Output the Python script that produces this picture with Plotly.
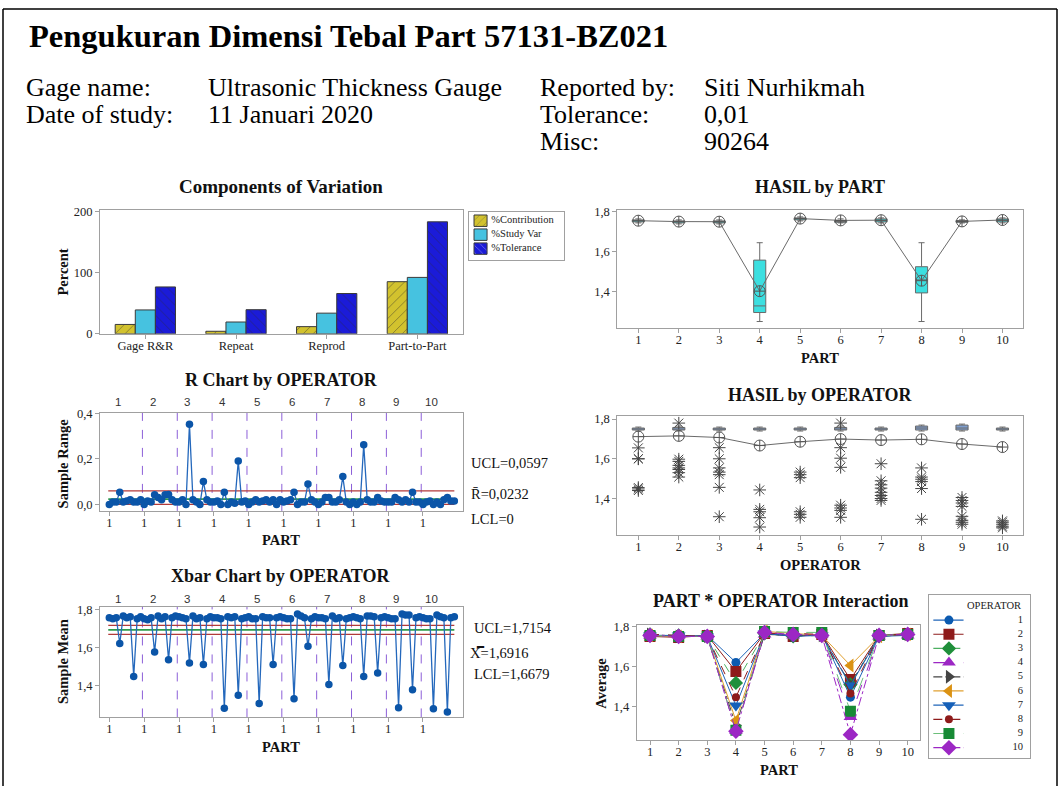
import plotly.graph_objects as go

W, H = 1062, 793
SERIF = "Liberation Serif"
SANS = "Liberation Sans"

# ---------------- data ----------------
title_text = "Pengukuran Dimensi Tebal Part 57131-BZ021"
info_left_labels = ["Gage name:", "Date of study:"]
info_left_values = ["Ultrasonic Thickness Gauge", "11 Januari 2020"]
info_right_labels = ["Reported by:", "Tolerance:", "Misc:"]
info_right_values = ["Siti Nurhikmah", "0,01", "90264"]

components = ["Gage R&R", "Repeat", "Reprod", "Part-to-Part"]
pct_contribution = [15.4, 4.2, 11.8, 85.5]
pct_study_var = [39.2, 19.4, 33.9, 92.5]
pct_tolerance = [76.9, 39.6, 66.1, 183.6]
comp_series = ["%Contribution", "%Study Var", "%Tolerance"]
comp_colors = ["#D2C22E", "#46C2E0", "#1B1BD8"]
comp_patterns = ["/", "", "\\"]

parts = [1, 2, 3, 4, 5, 6, 7, 8, 9, 10]
operators = [1, 2, 3, 4, 5, 6, 7, 8, 9, 10]

# sample means (per operator, parts 1..10)
xbar_op1 = [1.755, 1.750, 1.755, 1.620, 1.765, 1.755, 1.760, 1.447, 1.750, 1.760]
xbar_op2 = [1.750, 1.745, 1.755, 1.575, 1.765, 1.750, 1.760, 1.535, 1.755, 1.765]
xbar_op3 = [1.760, 1.755, 1.750, 1.518, 1.765, 1.750, 1.755, 1.510, 1.750, 1.760]
xbar_op4 = [1.755, 1.755, 1.750, 1.280, 1.760, 1.755, 1.760, 1.348, 1.750, 1.755]
xbar_op5 = [1.760, 1.750, 1.750, 1.305, 1.760, 1.755, 1.755, 1.510, 1.755, 1.760]
xbar_op6 = [1.755, 1.750, 1.750, 1.330, 1.775, 1.765, 1.755, 1.605, 1.750, 1.760]
xbar_op7 = [1.755, 1.755, 1.750, 1.405, 1.765, 1.750, 1.755, 1.505, 1.750, 1.755]
xbar_op8 = [1.760, 1.755, 1.750, 1.447, 1.765, 1.765, 1.760, 1.465, 1.755, 1.760]
xbar_op9 = [1.755, 1.750, 1.750, 1.282, 1.775, 1.770, 1.770, 1.377, 1.755, 1.760]
xbar_op10 = [1.755, 1.750, 1.750, 1.277, 1.770, 1.760, 1.755, 1.260, 1.755, 1.760]

# sample ranges (per operator, parts 1..10)
range_op1 = [0.000, 0.010, 0.010, 0.053, 0.010, 0.015, 0.020, 0.010, 0.010, 0.020]
range_op2 = [0.000, 0.015, 0.010, 0.042, 0.030, 0.020, 0.042, 0.043, 0.020, 0.010]
range_op3 = [0.010, 0.020, 0.000, 0.352, 0.020, 0.010, 0.000, 0.100, 0.020, 0.010]
range_op4 = [0.010, 0.015, 0.000, 0.053, 0.000, 0.010, 0.005, 0.190, 0.010, 0.015]
range_op5 = [0.000, 0.010, 0.020, 0.010, 0.015, 0.020, 0.010, 0.020, 0.000, 0.020]
range_op6 = [0.010, 0.015, 0.020, 0.053, 0.000, 0.010, 0.010, 0.089, 0.020, 0.010]
range_op7 = [0.000, 0.010, 0.030, 0.030, 0.010, 0.010, 0.020, 0.122, 0.010, 0.000]
range_op8 = [0.010, 0.000, 0.010, 0.262, 0.020, 0.010, 0.010, 0.030, 0.015, 0.010]
range_op9 = [0.010, 0.010, 0.030, 0.020, 0.010, 0.020, 0.010, 0.053, 0.010, 0.010]
range_op10 = [0.000, 0.010, 0.015, 0.000, 0.010, 0.000, 0.020, 0.030, 0.015, 0.015]

R_UCL, R_BAR, R_LCL = 0.0597, 0.0232, 0.0
X_UCL, X_BAR, X_LCL = 1.7154, 1.6916, 1.6679

# HASIL by PART box statistics
part_q1 = [1.750, 1.745, 1.745, 1.297, 1.760, 1.748, 1.750, 1.395, 1.748, 1.750]
part_median = [1.755, 1.750, 1.750, 1.330, 1.765, 1.752, 1.757, 1.460, 1.752, 1.757]
part_q3 = [1.760, 1.755, 1.755, 1.559, 1.770, 1.757, 1.765, 1.526, 1.757, 1.765]
part_lo = [1.745, 1.740, 1.740, 1.252, 1.755, 1.745, 1.745, 1.252, 1.745, 1.745]
part_hi = [1.765, 1.760, 1.760, 1.646, 1.775, 1.765, 1.770, 1.646, 1.760, 1.770]

# HASIL by OPERATOR box statistics
op_q1 = [1.745, 1.745, 1.745, 1.745, 1.745, 1.745, 1.745, 1.745, 1.745, 1.745]
op_median = [1.750, 1.750, 1.750, 1.750, 1.750, 1.750, 1.750, 1.755, 1.755, 1.750]
op_q3 = [1.755, 1.758, 1.755, 1.755, 1.755, 1.758, 1.755, 1.765, 1.770, 1.755]
op_lo = [1.740, 1.740, 1.740, 1.740, 1.740, 1.740, 1.740, 1.740, 1.740, 1.740]
op_hi = [1.760, 1.765, 1.760, 1.760, 1.760, 1.765, 1.760, 1.770, 1.775, 1.760]

# outlying individual measurements (asterisks) per operator
outliers_op1 = [1.655, 1.600, 1.600, 1.455, 1.448, 1.440]
outliers_op2 = [1.780, 1.598, 1.587, 1.567, 1.554, 1.546, 1.530, 1.508]
outliers_op3 = [1.656, 1.600, 1.554, 1.533, 1.520, 1.456, 1.308]
outliers_op4 = [1.443, 1.345, 1.333, 1.303, 1.256]
outliers_op5 = [1.533, 1.520, 1.505, 1.333, 1.320, 1.305]
outliers_op6 = [1.780, 1.656, 1.603, 1.557, 1.366, 1.352, 1.340, 1.305]
outliers_op7 = [1.575, 1.489, 1.469, 1.452, 1.431, 1.415, 1.400, 1.390]
outliers_op8 = [1.554, 1.508, 1.497, 1.485, 1.450, 1.295]
outliers_op9 = [1.405, 1.390, 1.377, 1.360, 1.310, 1.290, 1.280, 1.270]
outliers_op10 = [1.287, 1.280, 1.270, 1.260, 1.252]

xbar_all = [xbar_op1, xbar_op2, xbar_op3, xbar_op4, xbar_op5,
            xbar_op6, xbar_op7, xbar_op8, xbar_op9, xbar_op10]
range_all = [range_op1, range_op2, range_op3, range_op4, range_op5,
             range_op6, range_op7, range_op8, range_op9, range_op10]
outliers_all = [outliers_op1, outliers_op2, outliers_op3, outliers_op4, outliers_op5,
                outliers_op6, outliers_op7, outliers_op8, outliers_op9, outliers_op10]

# styles for operators in interaction plot
op_colors = ["#0B5AB0", "#8E1B1B", "#1F8F3A", "#9C27C4", "#444444",
             "#DB9213", "#1560B8", "#8E1B1B", "#178A35", "#9C27C4"]
op_line_colors = ["#1F65B8", "#8E1B1B", "#4CAF60", "#9C27C4", "#444444",
                  "#E0A030", "#1F65B8", "#8E1B1B", "#6CBF7A", "#9C27C4"]
op_symbols = ["circle", "square", "diamond", "triangle-up", "triangle-right",
              "triangle-left", "triangle-down", "circle", "square", "diamond"]
op_dash = ["solid", "solid", "dash", "longdash", "dashdot",
           "solid", "solid", "dash", "longdash", "dashdot"]
op_msize = [9, 11, 11, 12, 12, 12, 12, 8, 11, 12]


# ---------------- helpers ----------------
def fx(p):
    return p / W


def fy(p):
    return 1 - p / H


def dom_x(a, b):
    return [fx(a), fx(b)]


def dom_y(top, bottom):
    return [fy(bottom), fy(top)]


def comma(v, nd):
    return f"{v:.{nd}f}".replace(".", ",")


AX_LINE = "#A0A0A0"
base_axis = dict(showline=True, mirror=True, linecolor=AX_LINE, linewidth=1,
                 ticks="outside", ticklen=4, tickcolor=AX_LINE, showgrid=False,
                 zeroline=False, tickfont=dict(family=SERIF, size=12.5, color="#222"))

fig = go.Figure()

# ---------------- Components of Variation ----------------
bar_line = dict(color="#3A3A3A", width=1)
comp_values = [pct_contribution, pct_study_var, pct_tolerance]
for name, vals, col, pat in zip(comp_series, comp_values, comp_colors, comp_patterns):
    fig.add_trace(go.Bar(x=components, y=vals, name=name,
                         marker=dict(color=col, line=bar_line,
                                     pattern=dict(shape=pat, fgcolor="#2A2A2A", size=7, solidity=0.12)),
                         showlegend=False, xaxis="x", yaxis="y"))

# compact legend for components (aux axis 8)
n_ser = len(comp_series)
fig.add_trace(go.Bar(y=list(range(n_ser)), x=[0.137] * n_ser, base=[0.053] * n_ser,
                     orientation="h", width=0.82,
                     marker=dict(color=comp_colors, line=bar_line,
                                 pattern=dict(shape=comp_patterns, fgcolor="#2A2A2A",
                                              size=5, solidity=0.12)),
                     showlegend=False, hoverinfo="skip", xaxis="x8", yaxis="y8"))
fig.add_trace(go.Scatter(x=[0.235] * n_ser, y=list(range(n_ser)), mode="text",
                         text=comp_series, textposition="middle right",
                         textfont=dict(family=SERIF, size=10.5, color="#222"),
                         showlegend=False, hoverinfo="skip", xaxis="x8", yaxis="y8"))

# ---------------- HASIL by PART ----------------
part_means = [sum(xbar_all[o][p] for o in range(len(operators))) / len(operators)
              for p in range(len(parts))]
fig.add_trace(go.Box(x=parts, q1=part_q1, median=part_median, q3=part_q3,
                     lowerfence=part_lo, upperfence=part_hi, width=0.3,
                     fillcolor="#3CDFE0", line=dict(color="#6A6A6A", width=1),
                     boxpoints=False, showlegend=False, hoverinfo="skip",
                     xaxis="x2", yaxis="y2"))
fig.add_trace(go.Scatter(x=parts, y=part_means, mode="lines+markers",
                         line=dict(color="#6A6A6A", width=1),
                         marker=dict(symbol="circle-cross-open", size=11,
                                     color="#555555", line=dict(width=1)),
                         showlegend=False, xaxis="x2", yaxis="y2"))

# ---------------- R chart ----------------
n_parts = len(parts)
idx = [o * n_parts + p + 1 for o in range(len(operators)) for p in range(n_parts)]
r_flat = [v for row in range_all for v in row]
x_flat = [v for row in xbar_all for v in row]
pt_line = dict(color="#2468BC", width=1.3)
pt_marker = dict(symbol="circle", size=7.5, color="#0B55A8")
fig.add_trace(go.Scatter(x=idx, y=r_flat, mode="lines+markers", line=pt_line,
                         marker=pt_marker, showlegend=False, xaxis="x3", yaxis="y3"))

# ---------------- HASIL by OPERATOR ----------------
op_means = [sum(row) / len(row) for row in xbar_all]
fig.add_trace(go.Box(x=operators, q1=op_q1, median=op_median, q3=op_q3,
                     lowerfence=op_lo, upperfence=op_hi, width=0.3,
                     fillcolor="#7E9ECF", line=dict(color="#6A6A6A", width=1),
                     boxpoints=False, showlegend=False, hoverinfo="skip",
                     xaxis="x4", yaxis="y4"))
out_x = [operators[i] for i, lst in enumerate(outliers_all) for _ in lst]
out_y = [v for lst in outliers_all for v in lst]
fig.add_trace(go.Scatter(x=out_x, y=out_y, mode="markers",
                         marker=dict(symbol="asterisk-open", size=10.5, color="#454545",
                                     line=dict(color="#454545", width=1)),
                         showlegend=False, xaxis="x4", yaxis="y4"))
fig.add_trace(go.Scatter(x=operators, y=op_means, mode="lines+markers",
                         line=dict(color="#6A6A6A", width=1),
                         marker=dict(symbol="circle-cross-open", size=11,
                                     color="#555555", line=dict(width=1)),
                         showlegend=False, xaxis="x4", yaxis="y4"))

# ---------------- Xbar chart ----------------
fig.add_trace(go.Scatter(x=idx, y=x_flat, mode="lines+markers", line=pt_line,
                         marker=pt_marker, showlegend=False, xaxis="x5", yaxis="y5"))

# ---------------- Interaction ----------------
for i, op in enumerate(operators):
    fig.add_trace(go.Scatter(x=parts, y=xbar_all[i], mode="lines+markers",
                             name=str(op),
                             line=dict(color=op_line_colors[i], width=1, dash=op_dash[i]),
                             marker=dict(symbol=op_symbols[i], size=op_msize[i],
                                         color=op_colors[i]),
                             showlegend=False, xaxis="x6", yaxis="y6"))

# manual interaction legend (aux axis 7)
for i, op in enumerate(operators):
    fig.add_trace(go.Scatter(x=[0.04, 0.34], y=[op, op], mode="lines",
                             line=dict(color=op_line_colors[i], width=1.2, dash=op_dash[i]),
                             showlegend=False, hoverinfo="skip", xaxis="x7", yaxis="y7"))
    fig.add_trace(go.Scatter(x=[0.195], y=[op], mode="markers",
                             marker=dict(symbol=op_symbols[i], size=op_msize[i],
                                         color=op_colors[i]),
                             showlegend=False, hoverinfo="skip", xaxis="x7", yaxis="y7"))
fig.add_trace(go.Scatter(x=[0.93] * len(operators), y=operators, mode="text",
                         text=[str(o) for o in operators], textposition="middle left",
                         textfont=dict(family=SERIF, size=10.5, color="#222"),
                         showlegend=False, hoverinfo="skip", xaxis="x7", yaxis="y7"))

# ---------------- shapes ----------------
shapes = []
for axn, ucl, cl, lcl in (("3", R_UCL, R_BAR, R_LCL), ("5", X_UCL, X_BAR, X_LCL)):
    for val, col, wd in ((ucl, "#B23A3A", 1.3), (lcl, "#B23A3A", 1.3), (cl, "#2E9B4A", 1.6)):
        shapes.append(dict(type="line", xref="x" + axn, yref="y" + axn,
                           x0=idx[0] - 0.3, x1=idx[-1], y0=val, y1=val,
                           line=dict(color=col, width=wd), layer="below"))
    for k in range(1, len(operators)):
        xv = k * n_parts + 0.5
        shapes.append(dict(type="line", xref="x" + axn, yref="y" + axn + " domain",
                           x0=xv, x1=xv, y0=0, y1=1,
                           line=dict(color="#8C5FD8", width=1, dash="dash"), layer="below"))
# outer frame (left, top, right)
frame = dict(color="#000", width=1.5)
shapes.append(dict(type="line", xref="paper", yref="paper", x0=fx(3), x1=fx(3),
                   y0=0, y1=fy(3), line=frame))
shapes.append(dict(type="line", xref="paper", yref="paper", x0=fx(3), x1=fx(1057),
                   y0=fy(3), y1=fy(3), line=frame))
shapes.append(dict(type="line", xref="paper", yref="paper", x0=fx(1057), x1=fx(1057),
                   y0=0, y1=fy(3), line=frame))

# ---------------- annotations ----------------
ann = []


def txt(x, y, s, size, bold=False, xanchor="center", family=SERIF, angle=0, color="#111"):
    ann.append(dict(x=fx(x), y=fy(y), xref="paper", yref="paper",
                    text=("<b>%s</b>" % s) if bold else s,
                    showarrow=False, xanchor=xanchor, yanchor="middle", textangle=angle,
                    font=dict(family=family, size=size, color=color)))


txt(27, 30, title_text, 32.5, bold=True, xanchor="left", color="#000")
for j, (lab, val) in enumerate(zip(info_left_labels, info_left_values)):
    txt(24, 83 + 27.5 * j, lab, 26, xanchor="left", color="#000")
    txt(206, 83 + 27.5 * j, val, 26, xanchor="left", color="#000")
for j, (lab, val) in enumerate(zip(info_right_labels, info_right_values)):
    txt(538, 83 + 27.5 * j, lab, 26, xanchor="left", color="#000")
    txt(702, 83 + 27.5 * j, val, 26, xanchor="left", color="#000")

# panel titles
txt(281, 184, "Components of Variation", 19, bold=True)
txt(820, 184, "HASIL by PART", 18, bold=True)
txt(281, 380, "R Chart by OPERATOR", 18, bold=True)
txt(820, 395, "HASIL by OPERATOR", 18, bold=True)
txt(281, 580, "Xbar Chart by OPERATOR", 18, bold=True)
txt(781, 605, "PART * OPERATOR Interaction", 18, bold=True)

# axis titles
txt(820, 358, "PART", 14.5, bold=True)
txt(281, 543, "PART", 14.5, bold=True)
txt(820, 568, "OPERATOR", 14.5, bold=True)
txt(281, 753, "PART", 14.5, bold=True)
txt(779, 777, "PART", 14.5, bold=True)
txt(63, 271, "Percent", 14.5, bold=True, angle=-90)
txt(63, 465, "Sample Range", 14.5, bold=True, angle=-90)
txt(63, 667, "Sample Mean", 14.5, bold=True, angle=-90)
txt(601, 689, "Average", 14.5, bold=True, angle=-90)

# control limit labels
txt(469, 465, "UCL=" + comma(R_UCL, 4), 14.5, xanchor="left")
txt(469, 496, "R\u0304=" + comma(R_BAR, 4), 14.5, xanchor="left")
txt(469, 522, "LCL=" + ("0" if R_LCL == 0 else comma(R_LCL, 4)), 14.5, xanchor="left")
txt(472, 632, "UCL=" + comma(X_UCL, 4), 14.5, xanchor="left")
txt(468, 658, "X\u033F=" + comma(X_BAR, 4), 14.5, xanchor="left")
txt(472, 679, "LCL=" + comma(X_LCL, 4), 14.5, xanchor="left")

# operator labels above R and Xbar charts
for k, op in enumerate(operators):
    for axn, ypx in (("x3", 403), ("x5", 603)):
        ann.append(dict(x=k * n_parts + 3.4, y=fy(ypx), xref=axn, yref="paper",
                        text=str(op), showarrow=False, xanchor="center", yanchor="middle",
                        font=dict(family=SANS, size=11.5, color="#333")))

# legend title for interaction
ann.append(dict(x=0.93, y=0.0, xref="x7", yref="y7", text="OPERATOR", showarrow=False,
                xanchor="right", yanchor="middle", font=dict(family=SERIF, size=10.5, color="#222")))

# ---------------- layout ----------------
grp_ticks = [k * n_parts + 1 for k in range(len(operators))]
grp_text = [str(parts[0])] * len(operators)


def ax(**kw):
    d = dict(base_axis)
    d.update(kw)
    return d


def xax(**kw):
    return ax(ticklabelstandoff=-4, **kw)


box_axis = dict(showline=True, mirror=True, linecolor=AX_LINE, showticklabels=False,
                ticks="", showgrid=False, zeroline=False, fixedrange=True)

fig.update_layout(
    width=W, height=H, margin=dict(l=0, r=0, t=0, b=0),
    paper_bgcolor="white", plot_bgcolor="white", separators=",.",
    font=dict(family=SERIF, color="#222"),
    barmode="group", bargap=0.335, bargroupgap=0,
    showlegend=False,
    xaxis=xax(domain=dom_x(100, 462.7), anchor="y", type="category"),
    yaxis=ax(domain=dom_y(207.7, 333.3), anchor="x", range=[0, 202.5],
             tickvals=[0, 100, 200]),
    xaxis2=xax(domain=dom_x(617.3, 1022.7), anchor="y2", range=[0.48, 10.5],
               tickvals=parts),
    yaxis2=ax(domain=dom_y(207.3, 327.7), anchor="x2", range=[1.218, 1.81],
              tickvals=[1.4, 1.6, 1.8], tickformat=".1f"),
    xaxis3=xax(domain=dom_x(100, 462.7), anchor="y3", range=[-1.67, 102.4],
               tickvals=grp_ticks, ticktext=grp_text),
    yaxis3=ax(domain=dom_y(413.3, 513.3), anchor="x3", range=[-0.0285, 0.403],
              tickvals=[0.0, 0.2, 0.4], tickformat=".1f"),
    xaxis4=xax(domain=dom_x(617.3, 1022.7), anchor="y4", range=[0.48, 10.5],
               tickvals=operators),
    yaxis4=ax(domain=dom_y(417.3, 537.7), anchor="x4", range=[1.2164, 1.8134],
              tickvals=[1.4, 1.6, 1.8], tickformat=".1f"),
    xaxis5=xax(domain=dom_x(100, 462.7), anchor="y5", range=[-1.67, 102.4],
               tickvals=grp_ticks, ticktext=grp_text),
    yaxis5=ax(domain=dom_y(610.7, 723.3), anchor="x5", range=[1.2315, 1.8134],
              tickvals=[1.4, 1.6, 1.8], tickformat=".1f"),
    xaxis6=xax(domain=dom_x(636.7, 920), anchor="y6", range=[0.535, 10.43],
               tickvals=parts),
    yaxis6=ax(domain=dom_y(629.3, 746.7), anchor="x6", range=[1.231, 1.807],
              tickvals=[1.4, 1.6, 1.8], tickformat=".1f"),
    xaxis7=dict(box_axis, domain=dom_x(929.3, 1030), anchor="y7", range=[0, 1]),
    yaxis7=dict(box_axis, domain=dom_y(599.3, 765), anchor="x7", range=[10.76, -0.735]),
    xaxis8=dict(box_axis, domain=dom_x(469, 564), anchor="y8", range=[0, 1]),
    yaxis8=dict(box_axis, domain=dom_y(209, 258), anchor="x8", range=[2.8, -0.655]),
    shapes=shapes,
    annotations=ann,
)

fig.write_html("out.html", config={"displayModeBar": False},
               post_script="document.body.style.margin='0px';")
